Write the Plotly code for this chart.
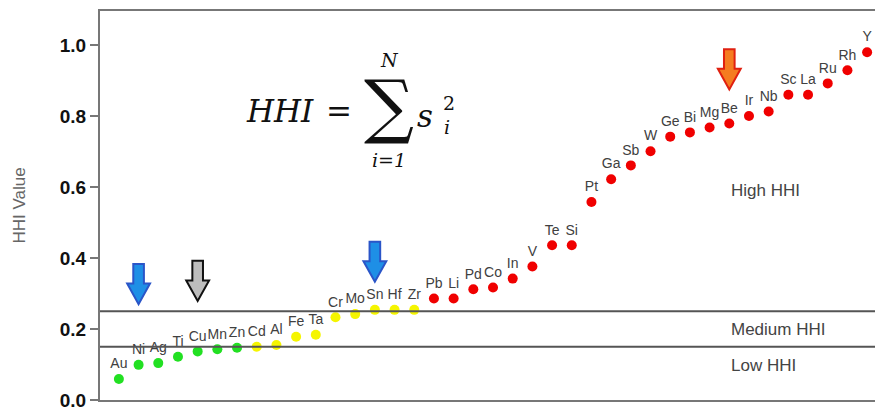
import plotly.graph_objects as go

elements = ["Au", "Ni", "Ag", "Ti", "Cu", "Mn", "Zn", "Cd", "Al", "Fe", "Ta", "Cr", "Mo",
            "Sn", "Hf", "Zr", "Pb", "Li", "Pd", "Co", "In", "V", "Te", "Si", "Pt", "Ga",
            "Sb", "W", "Ge", "Bi", "Mg", "Be", "Ir", "Nb", "Sc", "La", "Ru", "Rh", "Y"]
hhi = [0.059, 0.099, 0.104, 0.122, 0.137, 0.143, 0.147, 0.150, 0.155, 0.178, 0.184,
       0.233, 0.242, 0.254, 0.254, 0.254, 0.286, 0.286, 0.312, 0.317, 0.342, 0.376,
       0.436, 0.436, 0.558, 0.622, 0.661, 0.701, 0.742, 0.754, 0.768, 0.779, 0.800,
       0.813, 0.860, 0.860, 0.892, 0.929, 0.980]
n_low = 7      # green
n_medium = 9   # yellow
thresholds = [0.15, 0.25]
tick_vals = [0.0, 0.2, 0.4, 0.6, 0.8, 1.0]
tick_text = ["0.0", "0.2", "0.4", "0.6", "0.8", "1.0"]
zone_labels = ["Low HHI", "Medium HHI", "High HHI"]
zone_label_y = [0.098, 0.198, 0.59]
arrow_targets = ["Ni", "Cu", "Sn", "Be"]
arrow_tips = [0.270, 0.279, 0.333, 0.875]
arrow_colors = ["#1e8fe6", "#bdbdbd", "#1e8fe6", "#f57c20"]
arrow_edges = ["#2a55c8", "#111111", "#2a55c8", "#e02010"]

colors = (["#22e022"] * n_low + ["#f5f500"] * n_medium +
          ["#f00000"] * (len(elements) - n_low - n_medium))
xs = list(range(len(elements)))

fig = go.Figure()
fig.add_trace(go.Scatter(
    x=xs, y=hhi, mode="markers+text", text=elements, textposition="top center",
    textfont=dict(family="Liberation Sans, Arial", size=14, color="#404040"),
    marker=dict(size=10, color=colors), cliponaxis=False, hoverinfo="skip"))

for t in thresholds:
    fig.add_shape(type="line", xref="paper", x0=0, x1=1, yref="y", y0=t, y1=t,
                  line=dict(color="#555555", width=2))

for lab, yy in zip(zone_labels, zone_label_y):
    fig.add_annotation(x=31.0, y=yy, xref="x", yref="y", text=lab, showarrow=False,
                       xanchor="left", yanchor="middle",
                       font=dict(family="Liberation Sans, Arial", size=17, color="#444444"))

# block arrows above selected elements
for name, tip_y, fc, ec in zip(arrow_targets, arrow_tips, arrow_colors, arrow_edges):
    i = elements.index(name)
    hw, sw = 0.58, 0.27
    top = tip_y + 0.113
    neck = tip_y + 0.058
    path = (f"M {i - sw} {top} L {i + sw} {top} L {i + sw} {neck} L {i + hw} {neck} "
            f"L {i} {tip_y} L {i - hw} {neck} L {i - sw} {neck} Z")
    fig.add_shape(type="path", path=path, xref="x", yref="y", fillcolor=fc,
                  line=dict(color=ec, width=2))

# formula HHI = sum_{i=1}^{N} s_i^2 as text
X0, X1, Y0, Y1 = 100, 875, 11, 400
def px(xp):
    return (xp - X0) / (X1 - X0)
def py(yp):
    return (Y1 - yp) / (Y1 - Y0)
serif = "DejaVu Serif, Liberation Serif, serif"
def txt(xp, yp, s, size, italic=True):
    fig.add_annotation(x=px(xp), y=py(yp), xref="paper", yref="paper", text=s,
                       showarrow=False, xanchor="center", yanchor="middle",
                       font=dict(family=serif, size=size, color="#111111",
                                 style="italic" if italic else "normal"))
txt(280, 111, "HHI", 31)
txt(339, 111, "=", 31, italic=False)
txt(389, 106, "\u2211", 70, italic=False)
txt(389, 60, "N", 19)
txt(389, 160, "i=1", 19)
txt(425, 116, "s", 31)
txt(449, 103, "2", 19, italic=False)
txt(447, 127, "i", 19)

fig.update_layout(
    width=875, height=410, margin=dict(l=100, r=0, t=11, b=10),
    paper_bgcolor="white", plot_bgcolor="white", showlegend=False,
    xaxis=dict(range=[-0.96, 38.4], showgrid=False, zeroline=False, showticklabels=False,
               ticks="", showline=True, mirror=True, linecolor="#777777", linewidth=2),
    yaxis=dict(range=[0, 1.096], showgrid=False, zeroline=False, tickvals=tick_vals,
               ticktext=tick_text, ticks="outside", ticklen=8, tickcolor="#777777",
               tickwidth=2, showline=True, linecolor="#777777", linewidth=2,
               ticklabeloverflow="allow",
               tickfont=dict(family="Liberation Sans, Arial", size=19, color="#111111",
                             weight="bold"),
               title=dict(text="HHI Value", standoff=30,
                          font=dict(family="Liberation Sans, Arial", size=17,
                                    color="#666666"))),
)
fig.write_html("out.html", config={"displayModeBar": False},
               post_script="document.body.style.margin='0';")
